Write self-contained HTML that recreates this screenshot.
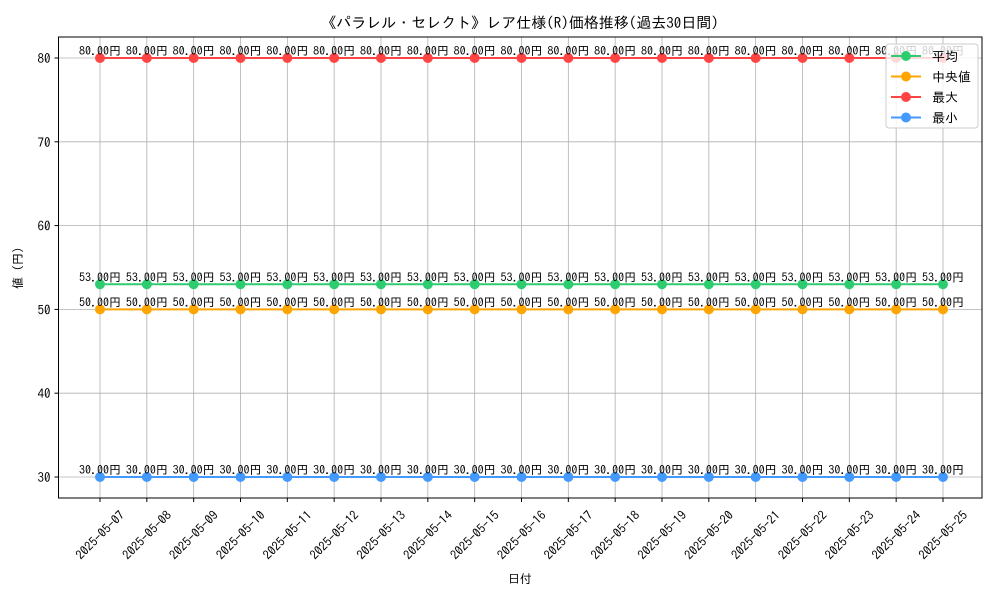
<!DOCTYPE html>
<html><head><meta charset="utf-8"><style>
body{margin:0;background:#fff}
svg{display:block;font-family:"IPAGothic","Noto Sans CJK JP",sans-serif}
</style></head><body>
<svg id="chart" width="1000" height="600" viewBox="0 0 1000 600">
<rect x="0" y="0" width="1000" height="600" fill="#fff"/>
<text x="520" y="28" font-size="15" text-anchor="middle">《パラレル・セレクト》レア仕様(R)価格推移(過去30日間)</text>
<g id="grid"></g><g id="series"></g><g id="axes"></g>
<text x="520" y="583" font-size="12" text-anchor="middle">日付</text>
<text x="22" y="268" font-size="12" text-anchor="middle" transform="rotate(-90 22 268)">値 (円)</text>
<g id="legend"></g>
</svg>
<script>
const dates=["2025-05-07","2025-05-08","2025-05-09","2025-05-10","2025-05-11","2025-05-12","2025-05-13","2025-05-14","2025-05-15","2025-05-16","2025-05-17","2025-05-18","2025-05-19","2025-05-20","2025-05-21","2025-05-22","2025-05-23","2025-05-24","2025-05-25"];
const avgVals=[53,53,53,53,53,53,53,53,53,53,53,53,53,53,53,53,53,53,53];
const medVals=[50,50,50,50,50,50,50,50,50,50,50,50,50,50,50,50,50,50,50];
const maxVals=[80,80,80,80,80,80,80,80,80,80,80,80,80,80,80,80,80,80,80];
const minVals=[30,30,30,30,30,30,30,30,30,30,30,30,30,30,30,30,30,30,30];
const yTicks=[30,40,50,60,70,80];
const seriesNames=["平均","中央値","最大","最小"];
const NS="http://www.w3.org/2000/svg";
const L=58.5,R=982,T=37,B=498;
const x=i=>100+i*(943-100)/(dates.length-1);
const y=v=>477-(v-30)*(477-58)/50;
function mk(tag,attrs,parent){const e=document.createElementNS(NS,tag);for(const k in attrs)e.setAttribute(k,attrs[k]);parent.appendChild(e);return e;}
const grid=document.getElementById('grid'),axes=document.getElementById('axes'),ser=document.getElementById('series'),leg=document.getElementById('legend');
dates.forEach((d,i)=>{
 const g=mk('line',{x1:x(i),x2:x(i),y1:T,y2:B,stroke:'#b0b0b0','stroke-width':0.8},grid);
 
 
 const tk=mk('line',{x1:x(i),x2:x(i),y1:B,y2:B+4,stroke:'#000'},axes);
 
 
 const cy=B+37;
 const t=mk('text',{x:x(i),y:cy,'font-size':12.5,'text-anchor':'middle','dominant-baseline':'central',transform:`rotate(-45 ${x(i)} ${cy})`},axes);
 t.textContent=d;
 
 
});
yTicks.forEach(v=>{
 const g=mk('line',{x1:L,x2:R,y1:y(v),y2:y(v),stroke:'#b0b0b0','stroke-width':0.8},grid);
 
 
 const tk=mk('line',{x1:L-4,x2:L,y1:y(v),y2:y(v),stroke:'#000'},axes);
 
 
 const t=mk('text',{x:L-8,y:y(v)+5,'font-size':13,'text-anchor':'end'},axes);
 t.textContent=v;
 
 
});
const fr=mk('rect',{x:L,y:T,width:R-L,height:B-T,fill:'none',stroke:'#000','stroke-width':1},axes);


const all=[[avgVals,'#2ecc71'],[medVals,'#ffa500'],[maxVals,'#ff4444'],[minVals,'#4499ff']];
all.forEach(([vals,c],si)=>{
 const g=mk('g',{},ser);
 
 
 const p=mk('polyline',{points:vals.map((v,i)=>x(i)+','+y(v)).join(' '),fill:'none',stroke:c,'stroke-width':2},g);
 
 
 vals.forEach((v,i)=>{
  const m=mk('circle',{cx:x(i),cy:y(v),r:5,fill:c},g);
  
  
  const t=mk('text',{x:x(i),y:y(v)-3,'font-size':12,'text-anchor':'middle'},g);
  t.textContent=v.toFixed(2)+'円';
  
  
 });
});
const lb=mk('rect',{x:886,y:44,width:92,height:84,rx:3,fill:'#fff','fill-opacity':0.8,stroke:'#ccc'},leg);


seriesNames.forEach((n,i)=>{
 const yy=56+i*20.5,c=all[i][1];
 const g=mk('g',{},leg);
 
 
 mk('line',{x1:891,x2:921,y1:yy,y2:yy,stroke:c,'stroke-width':2},g);
 mk('circle',{cx:906,cy:yy,r:5,fill:c},g);
 const t=mk('text',{x:932,y:yy+5,'font-size':13},g);
 t.textContent=n;
});
</script>
</body></html>
